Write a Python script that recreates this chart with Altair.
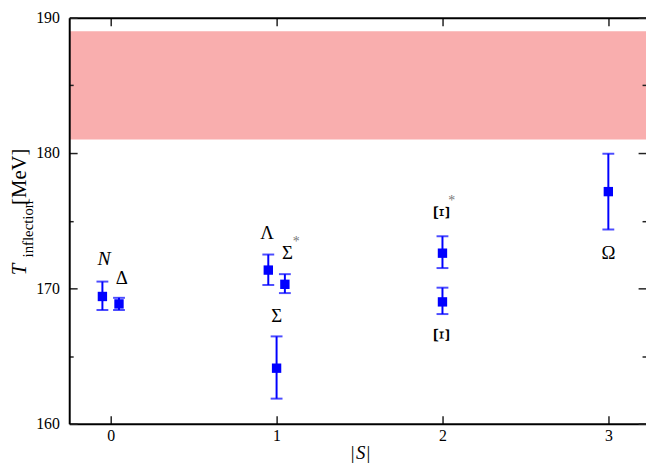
import altair as alt
import pandas as pd

# ---- data ----
names = ["N", "Δ", "Λ", "Σ*", "Σ", "Ξ*", "Ξ", "Ω"]
strangeness = [-0.05, 0.05, 0.95, 1.05, 1.0, 2.0, 2.0, 3.0]
t_infl = [169.4, 168.85, 171.35, 170.3, 164.1, 172.6, 169.0, 177.15]
t_lo = [168.4, 168.4, 170.25, 169.65, 161.85, 171.5, 168.1, 174.35]
t_hi = [170.5, 169.3, 172.5, 171.05, 166.45, 173.85, 170.05, 179.95]

label_text = ["Δ", "Λ", "Σ", "Σ", "Ω"]
label_x = [0.067, 0.943, 1.065, 1.0, 3.0]
label_y = [170.77, 174.1, 172.63, 167.93, 172.6]

italic_text = ["N"]
italic_x = [-0.04]
italic_y = [172.15]

rot_text = ["Ξ", "Ξ"]
rot_x = [1.99, 1.99]
rot_y = [175.6, 166.55]

star_x = [1.119, 2.055]
star_y = [173.4, 176.45]

band_lo, band_hi = 181.0, 189.0
band_x = [-0.25, 3.25]

x_domain = [-0.25, 3.227]
y_domain = [160, 190]
x_ticks = [0, 1, 2, 3]
y_major = [160, 170, 180, 190]
y_minor = [165, 175, 185]

df = pd.DataFrame({"name": names, "s": strangeness, "t": t_infl, "lo": t_lo, "hi": t_hi})
band = pd.DataFrame({"x": [band_x[0]], "x2": [band_x[1]], "y": [band_lo], "y2": [band_hi]})
labels = pd.DataFrame({"text": label_text, "x": label_x, "y": label_y})
ital = pd.DataFrame({"text": italic_text, "x": italic_x, "y": italic_y})
rot = pd.DataFrame({"text": rot_text, "x": rot_x, "y": rot_y})
stars = pd.DataFrame({"text": ["*", "*"], "x": star_x, "y": star_y})
one = pd.DataFrame({"k": [0]})

FONT = "Times New Roman, Liberation Serif, DejaVu Serif, serif"
xs = alt.Scale(domain=x_domain, nice=False, zero=False)
ys = alt.Scale(domain=y_domain, nice=False, zero=False)


def tick_axis(orient, values, size, labels=False, pad=4):
    kw = dict(orient=orient, values=values, tickSize=size, offset=-size, domain=False,
              grid=False, labels=labels, title=None, tickColor="#222", tickWidth=1.5,
              zindex=1)
    if labels:
        kw.update(labelFont=FONT, labelFontSize=16, labelColor="black", labelPadding=pad,
                  labelFlush=False, labelOverlap=False)
    return alt.Axis(**kw)


def line_axis(orient):
    return alt.Axis(orient=orient, ticks=False, labels=False, domain=True, domainColor="black",
                    domainWidth=2, grid=False, title=None, zindex=1)


band_layer = alt.Chart(band).mark_rect(color="#f9aeae", clip=True).encode(
    x=alt.X("x:Q", scale=xs, axis=tick_axis("bottom", x_ticks, 8, labels=True, pad=4)),
    x2="x2:Q",
    y=alt.Y("y:Q", scale=ys, axis=tick_axis("left", y_major, 8, labels=True, pad=10)),
    y2="y2:Q",
)

bars = alt.Chart(df).mark_rule(color="#0000ff", strokeWidth=2).encode(
    x=alt.X("s:Q", scale=xs, axis=tick_axis("top", x_ticks, 8)),
    y=alt.Y("lo:Q", scale=ys, axis=tick_axis("left", y_minor, 4)),
    y2="hi:Q",
)

caps_hi = alt.Chart(df).mark_tick(color="#0000ff", orient="horizontal", size=12, thickness=2).encode(
    x=alt.X("s:Q", scale=xs, axis=line_axis("bottom")),
    y=alt.Y("hi:Q", scale=ys, axis=line_axis("left")),
)

caps_lo = alt.Chart(df).mark_tick(color="#0000ff", orient="horizontal", size=12, thickness=2).encode(
    x=alt.X("s:Q", scale=xs, axis=line_axis("top")),
    y=alt.Y("lo:Q", scale=ys, axis=tick_axis("right", y_major, 8)),
)

points = alt.Chart(df).mark_square(color="#0000ff", size=90, opacity=1).encode(
    x=alt.X("s:Q", scale=xs, axis=None),
    y=alt.Y("t:Q", scale=ys, axis=tick_axis("right", y_minor, 4)),
)

txt = alt.Chart(labels).mark_text(font=FONT, fontSize=19, color="black", baseline="middle").encode(
    x=alt.X("x:Q", scale=xs, axis=None), y=alt.Y("y:Q", scale=ys, axis=None), text="text:N")

txt_it = alt.Chart(ital).mark_text(font=FONT, fontSize=20, fontStyle="italic", color="black",
                                   baseline="middle").encode(
    x=alt.X("x:Q", scale=xs, axis=None), y=alt.Y("y:Q", scale=ys, axis=None), text="text:N")

txt_rot = alt.Chart(rot).mark_text(font=FONT, fontSize=24, color="black", baseline="middle",
                                   angle=90).encode(
    x=alt.X("x:Q", scale=xs, axis=None), y=alt.Y("y:Q", scale=ys, axis=None), text="text:N")

txt_star = alt.Chart(stars).mark_text(font=FONT, fontSize=14, color="#777777", baseline="middle").encode(
    x=alt.X("x:Q", scale=xs, axis=None), y=alt.Y("y:Q", scale=ys, axis=None), text="text:N")

# axis titles (pixel positions relative to plot area)
def title_text(t, x, y, size, angle=0, style="normal"):
    kw = dict(text=t, font=FONT, fontSize=size, color="black", align="center", baseline="middle",
              fontStyle=style)
    if angle:
        kw["angle"] = angle
    return alt.Chart(one).mark_text(**kw).encode(x=alt.value(x), y=alt.value(y))

titles = [
    title_text("T", -50, 255, 21, 270, "italic"),
    title_text("inflection", -42, 214, 15, 270),
    title_text("[MeV]", -50, 161, 21, 270),
    title_text("|", 287, 441, 19),
    title_text("S", 295, 441, 19, 0, "italic"),
    title_text("|", 303, 441, 19),
]

chart = alt.layer(
    band_layer, bars, caps_hi, caps_lo, points, txt, txt_it, txt_rot, txt_star, *titles
).resolve_axis(x="independent", y="independent").properties(
    width=584, height=411,
    padding={"left": 62, "top": 7, "right": 0, "bottom": 40},
    autosize=alt.AutoSizeParams(type="none"),
    background="white",
).configure_view(stroke=None)

chart.save("out.html", embed_options={"renderer": "svg", "actions": False})
